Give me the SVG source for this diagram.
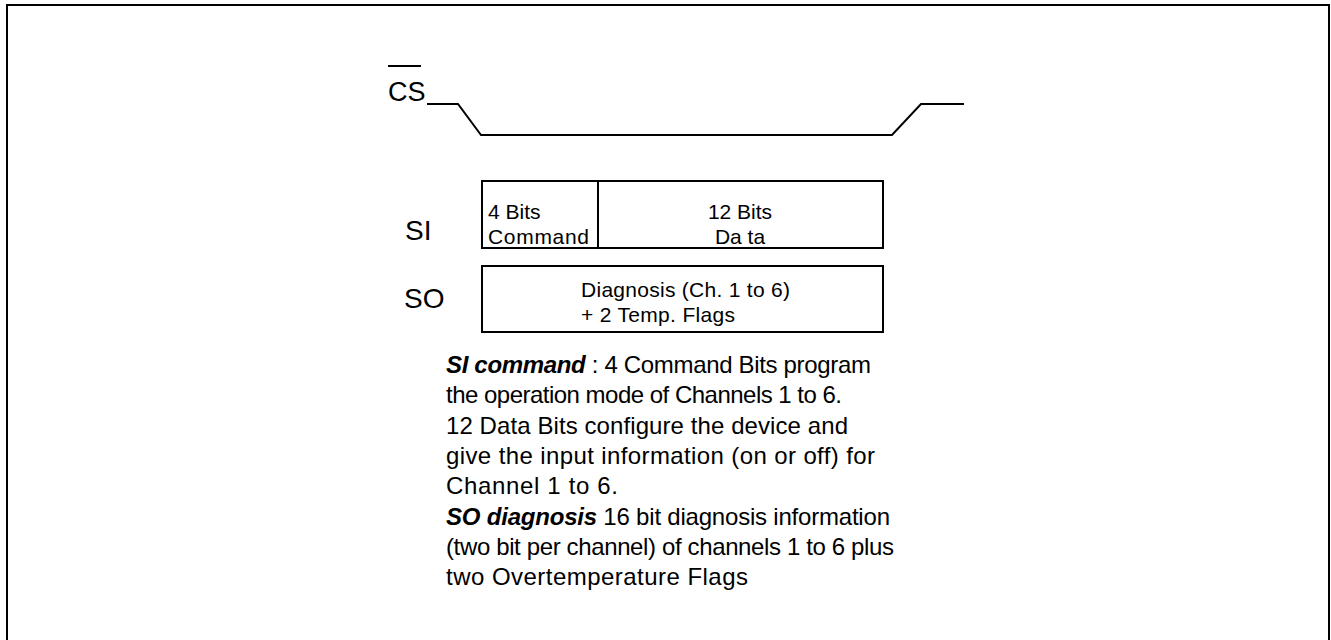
<svg xmlns="http://www.w3.org/2000/svg" width="1331" height="640" viewBox="0 0 1331 640">
<style>
.ln{fill:none;stroke:#000;stroke-width:2}
.t{font-family:"Liberation Sans",Arial,sans-serif;fill:#000}
.lbl{font-size:28px}
.box{font-size:21px}
.body{font-size:24px}
.b{font-weight:bold;font-style:italic}
</style>
<rect x="7" y="5" width="1322" height="700" class="ln"/>
<g id="cs">
<text class="t" x="388" y="101" style="font-size:27px">CS</text>
<line x1="388" y1="66" x2="421" y2="66" class="ln"/>
<polyline class="ln" points="427,104 458,104 481,135 892,135 921,104 964,104"/>
</g>
<g id="si">
<text class="t lbl" x="405" y="240">SI</text>
<rect x="482" y="181" width="401" height="67" class="ln"/>
<line x1="598" y1="181" x2="598" y2="248" class="ln"/>
<text class="t box" x="488" y="219">4 Bits</text>
<text class="t box" x="488" y="244" textLength="101">Command</text>
<text class="t box" x="740" y="219" text-anchor="middle">12 Bits</text>
<text class="t box" x="740" y="244" text-anchor="middle">Da ta</text>
</g>
<g id="so">
<text class="t lbl" x="404" y="308">SO</text>
<rect x="482" y="266" width="401" height="66" class="ln"/>
<text class="t box" x="581" y="297" textLength="209">Diagnosis (Ch. 1 to 6)</text>
<text class="t box" x="581" y="322" textLength="154">+ 2 Temp. Flags</text>
</g>
<g id="desc" class="t body">
<text x="446" y="373" textLength="425"><tspan class="b">SI command</tspan> : 4 Command Bits program</text>
<text x="446" y="403" textLength="396">the operation mode of Channels 1 to 6.</text>
<text x="446" y="434" textLength="402">12 Data Bits configure the device and</text>
<text x="446" y="464" textLength="429">give the input information (on or off) for</text>
<text x="446" y="494" textLength="172">Channel 1 to 6.</text>
<text x="446" y="525" textLength="444"><tspan class="b">SO diagnosis</tspan> 16 bit diagnosis information</text>
<text x="446" y="555" textLength="448">(two bit per channel) of channels 1 to 6 plus</text>
<text x="446" y="585" textLength="302">two Overtemperature Flags</text>
</g>
</svg>
